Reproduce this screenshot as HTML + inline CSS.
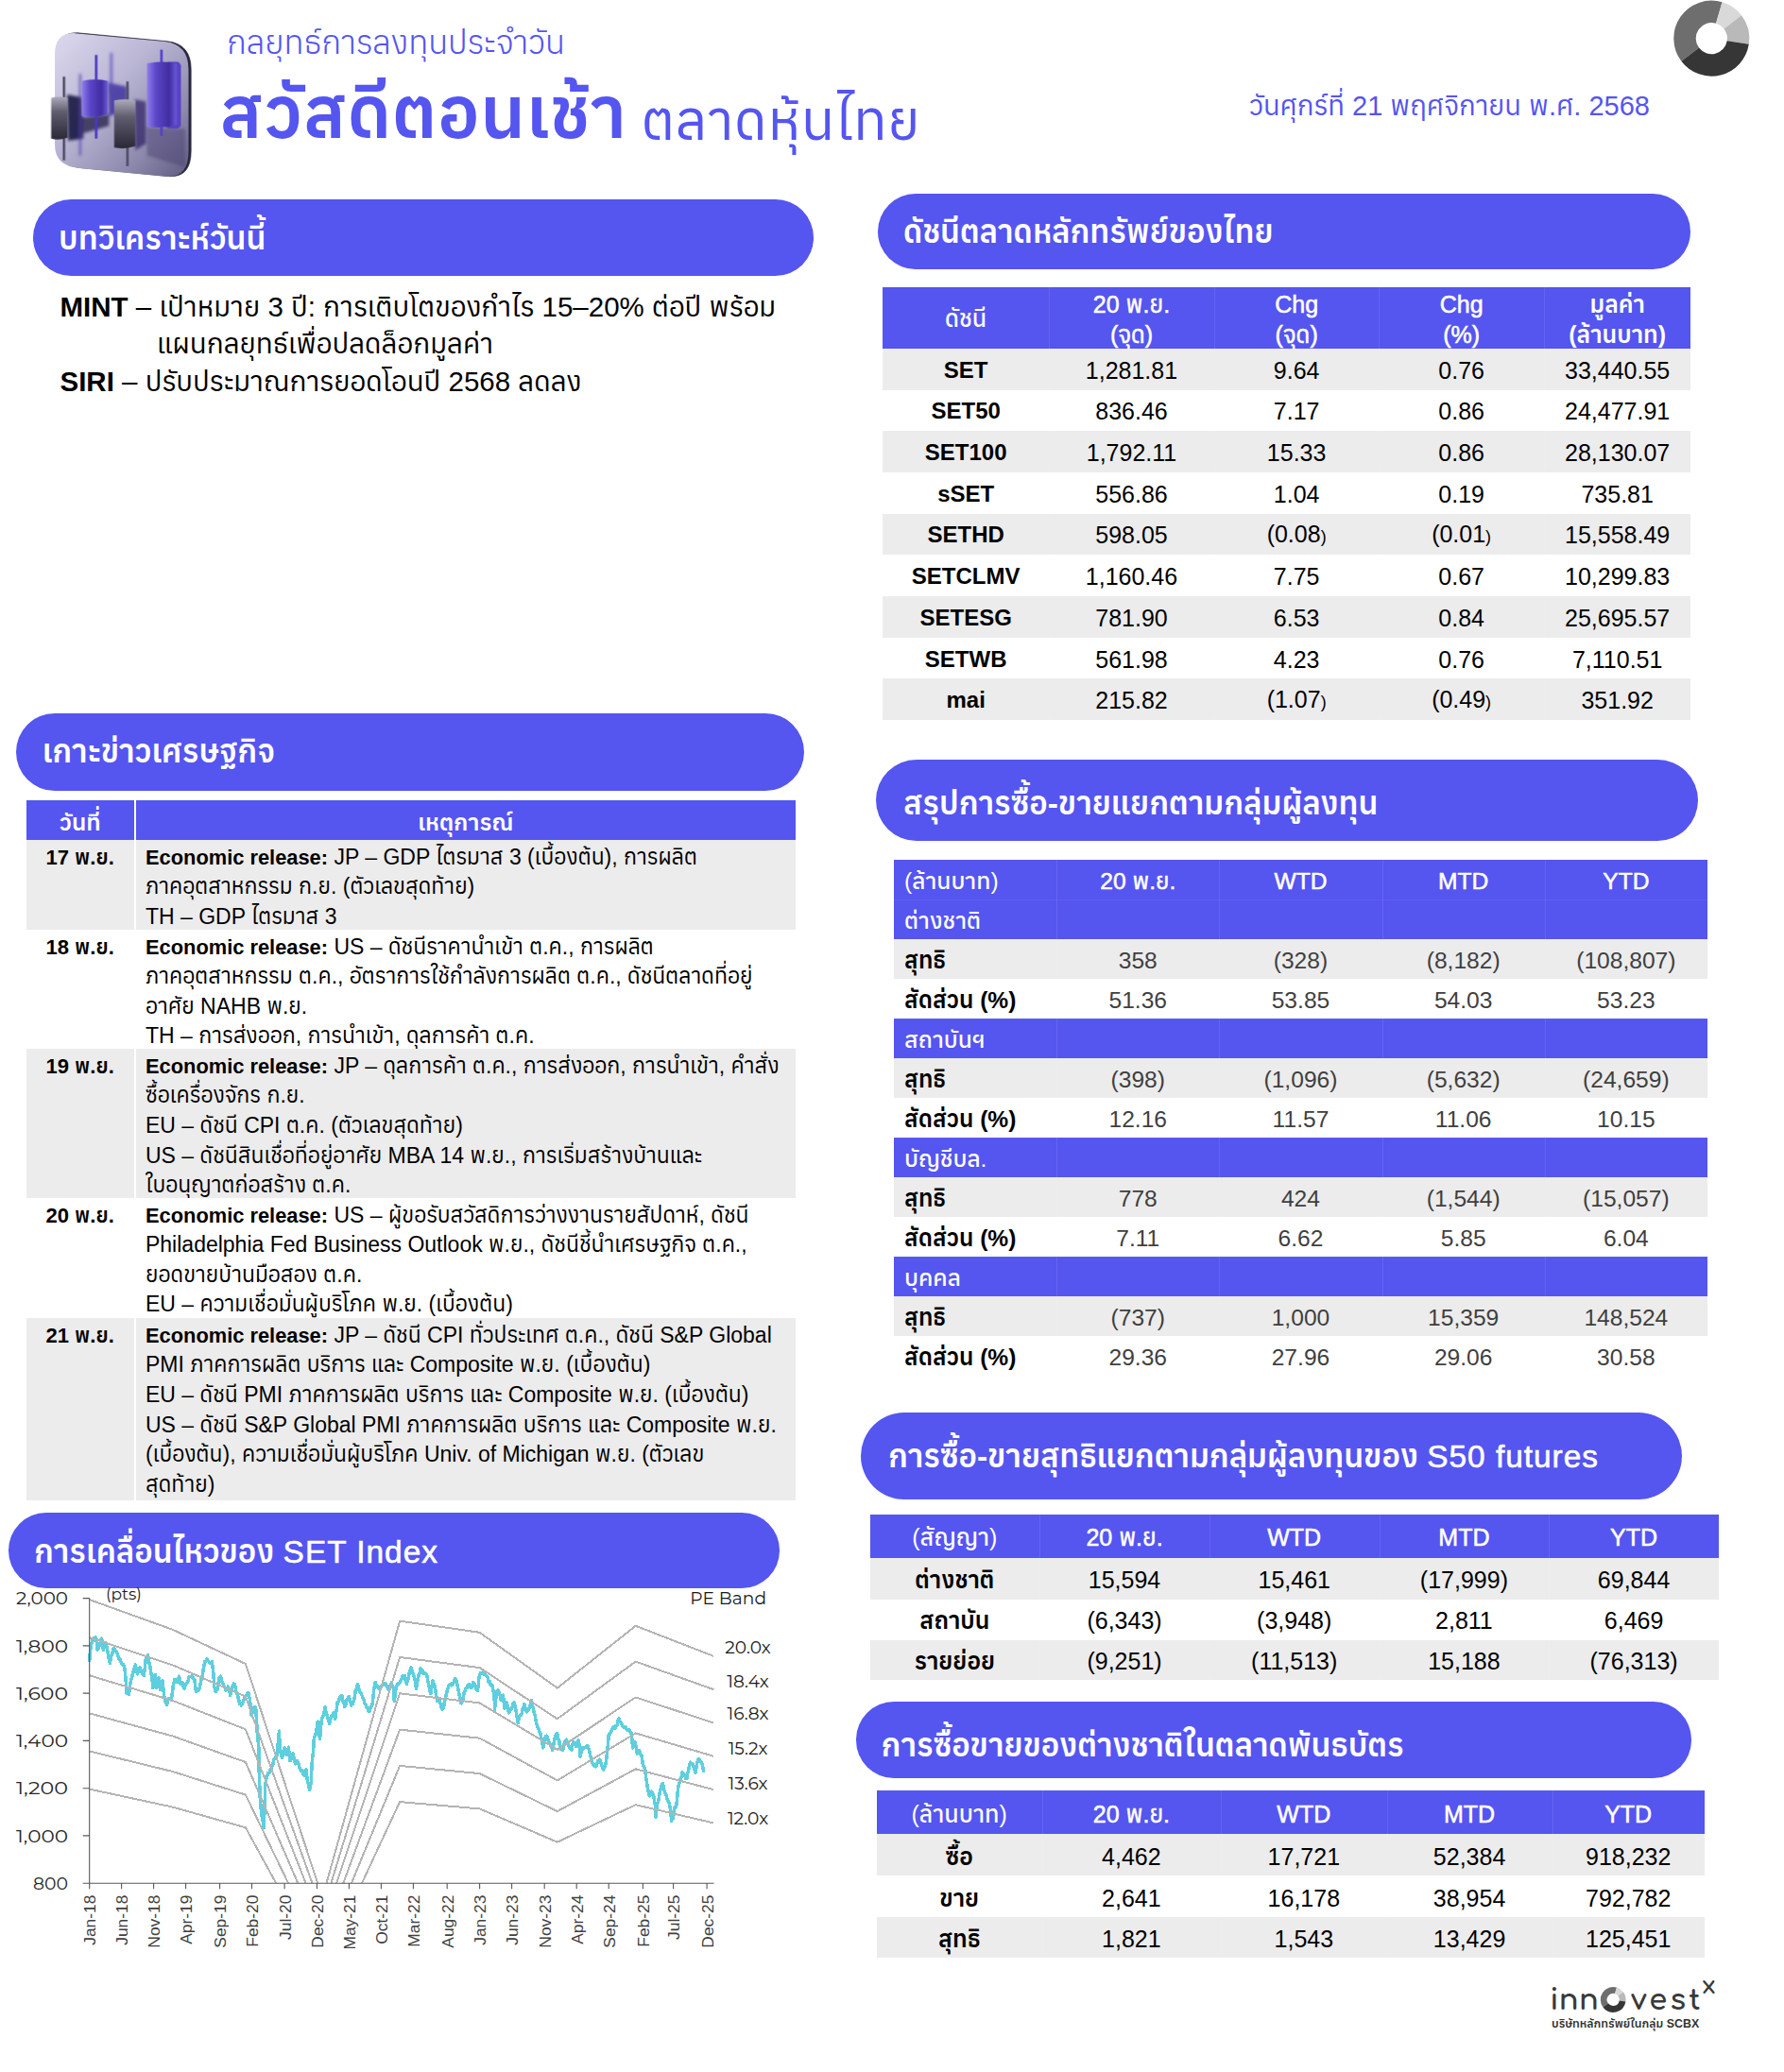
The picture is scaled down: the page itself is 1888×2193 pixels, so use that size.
<!DOCTYPE html>
<html lang="th"><head><meta charset="utf-8"><title>สวัสดีตอนเช้า ตลาดหุ้นไทย</title>
<style>
html,body{margin:0;padding:0;background:#fff}
body{width:1888px;height:2193px;position:relative;overflow:hidden;font-family:"Liberation Sans","Anuphan","IBM Plex Sans Thai","Noto Sans Thai",sans-serif;color:#000}
.abs{position:absolute;white-space:nowrap}
.pill{position:absolute;overflow:hidden;background:#5555f0;color:#fff;font-weight:600;font-size:33.4px;white-space:nowrap;box-sizing:border-box}
.pill span{position:absolute;left:0;line-height:40px}
.grid{position:absolute;display:grid}
.c{display:flex;align-items:center;justify-content:center;white-space:nowrap;box-sizing:border-box;text-align:center;overflow:hidden}
.c span{position:relative;display:block;top:1px}
.h{background:#5555f0;color:#fff;font-weight:600}
.g{background:#ececec}
.w{background:#fff}
.b{font-weight:600}
.l{justify-content:flex-start;text-align:left}
.sp{font-size:.72em}
.hm{font-weight:400;-webkit-text-stroke:.55px currentColor}
.m{font-style:normal;font-weight:400;-webkit-text-stroke:.6px currentColor;letter-spacing:1px}
.v{box-shadow:inset 1px 0 0 rgba(255,255,255,.09)}
.h.t{box-shadow:inset 0 1px 0 rgba(255,255,255,.06)}
.h.t.v{box-shadow:inset 1px 0 0 rgba(255,255,255,.09),inset 0 1px 0 rgba(255,255,255,.06)}
.news{position:absolute;font-size:23px;line-height:31.6px}
.news .r{position:absolute;left:0;width:814.4px}
.news .d{position:absolute;overflow:hidden;white-space:nowrap;left:0;top:0;width:114px;height:100%;text-align:center;font-weight:600;font-size:22px;padding-top:2.5px;box-sizing:border-box}
.news .e{position:absolute;left:116px;top:0;right:0;height:100%;padding-left:10.3px;padding-top:2.5px;white-space:nowrap;box-sizing:border-box;overflow:hidden}
.news b{font-weight:600;font-size:.95em}
</style></head>
<body>
<div class="abs" style="left:240px;top:23px;font-size:34.8px;line-height:44px;font-weight:300;color:#5555f0;width:420px;overflow:hidden">กลยุทธ์การลงทุนประจำวัน</div>
<div class="abs" style="left:232.5px;top:69.5px;font-size:75.7px;line-height:100px;font-weight:600;color:#5555f0;letter-spacing:1.1px;width:440px;overflow:hidden">สวัสดีตอนเช้า</div>
<div class="abs" style="left:679px;top:82.5px;font-size:58px;line-height:90px;font-weight:400;color:#5555f0;letter-spacing:.9px;width:320px;overflow:hidden">ตลาดหุ้นไทย</div>
<div class="abs" style="left:1322px;top:93px;font-size:29.05px;line-height:38px;font-weight:400;color:#5555f0;width:440px;overflow:hidden">วันศุกร์ที่ 21 พฤศจิกายน พ.ศ. 2568</div>
<div class="pill" style="left:35.3px;top:210.9px;width:825.4px;height:80.7px;border-radius:40.4px"><span style="left:26.8px;top:22.0px">บทวิเคราะห์วันนี้</span></div>
<div class="pill" style="left:928.8px;top:205.1px;width:860.6px;height:80.2px;border-radius:40.1px"><span style="left:27.3px;top:21.2px">ดัชนีตลาดหลักทรัพย์ของไทย</span></div>
<div class="pill" style="left:16.8px;top:754.8px;width:833.9px;height:81.9px;border-radius:41.0px"><span style="left:27.9px;top:21.5px">เกาะข่าวเศรษฐกิจ</span></div>
<div class="pill" style="left:927.3px;top:804.0px;width:869.9px;height:86.4px;border-radius:43.2px"><span style="left:28.8px;top:26.5px">สรุปการซื้อ-ขายแยกตามกลุ่มผู้ลงทุน</span></div>
<div class="pill" style="left:910.9px;top:1495.1px;width:869.6px;height:92.0px;border-radius:46.0px"><span style="left:29.0px;top:27.0px">การซื้อ-ขายสุทธิแยกตามกลุ่มผู้ลงทุนของ <i class="m">S50 futures</i></span></div>
<div class="pill" style="left:8.7px;top:1601.3px;width:816.7px;height:79.5px;border-radius:39.8px"><span style="left:27.3px;top:22.1px">การเคลื่อนไหวของ <i class="m">SET Index</i></span></div>
<div class="pill" style="left:906.2px;top:1801.4px;width:884.3px;height:80.2px;border-radius:40.1px"><span style="left:26.4px;top:26.2px">การซื้อขายของต่างชาติในตลาดพันธบัตร</span></div>
<div class="abs" style="left:63.5px;top:305px;font-size:29.5px;line-height:39.4px;width:800px;overflow:hidden"><b style="font-weight:700">MINT</b> – เป้าหมาย 3 ปี: การเติบโตของกำไร 15–20% ต่อปี พร้อม<br><span style="display:inline-block;width:102.5px"></span>แผนกลยุทธ์เพื่อปลดล็อกมูลค่า<br><b style="font-weight:700">SIRI</b> – ปรับประมาณการยอดโอนปี 2568 ลดลง</div>
<div class="news" style="left:27.7px;top:847.0px;width:814.4px;height:740.9000000000001px">
<div class="r" style="top:0;height:42.3px;color:#fff;font-weight:600;font-size:24.5px;line-height:42.3px"><div class="d" style="background:#5555f0;font-weight:600;font-size:24.5px">วันที่</div><div class="e" style="background:#5555f0;text-align:center;padding-left:0">เหตุการณ์</div></div>
<div class="r" style="top:42.3px;height:94.9px"><div class="d" style="background:#ececec">17 พ.ย.</div><div class="e" style="background:#ececec"><b>Economic release:</b> JP – GDP ไตรมาส 3 (เบื้องต้น), การผลิต<br>ภาคอุตสาหกรรม ก.ย. (ตัวเลขสุดท้าย)<br>TH – GDP ไตรมาส 3</div></div>
<div class="r" style="top:137.2px;height:126.1px"><div class="d" style="background:#fff">18 พ.ย.</div><div class="e" style="background:#fff"><b>Economic release:</b> US – ดัชนีราคานำเข้า ต.ค., การผลิต<br>ภาคอุตสาหกรรม ต.ค., อัตราการใช้กำลังการผลิต ต.ค., ดัชนีตลาดที่อยู่<br>อาศัย NAHB พ.ย.<br>TH – การส่งออก, การนำเข้า, ดุลการค้า ต.ค.</div></div>
<div class="r" style="top:263.3px;height:157.9px"><div class="d" style="background:#ececec">19 พ.ย.</div><div class="e" style="background:#ececec"><b>Economic release:</b> JP – ดุลการค้า ต.ค., การส่งออก, การนำเข้า, คำสั่ง<br>ซื้อเครื่องจักร ก.ย.<br>EU – ดัชนี CPI ต.ค. (ตัวเลขสุดท้าย)<br>US – ดัชนีสินเชื่อที่อยู่อาศัย MBA 14 พ.ย., การเริ่มสร้างบ้านและ<br>ใบอนุญาตก่อสร้าง ต.ค.</div></div>
<div class="r" style="top:421.2px;height:127.1px"><div class="d" style="background:#fff">20 พ.ย.</div><div class="e" style="background:#fff"><b>Economic release:</b> US – ผู้ขอรับสวัสดิการว่างงานรายสัปดาห์, ดัชนี<br>Philadelphia Fed Business Outlook พ.ย., ดัชนีชี้นำเศรษฐกิจ ต.ค.,<br>ยอดขายบ้านมือสอง ต.ค.<br>EU – ความเชื่อมั่นผู้บริโภค พ.ย. (เบื้องต้น)</div></div>
<div class="r" style="top:548.3px;height:192.6px"><div class="d" style="background:#ececec">21 พ.ย.</div><div class="e" style="background:#ececec"><b>Economic release:</b> JP – ดัชนี CPI ทั่วประเทศ ต.ค., ดัชนี S&amp;P Global<br>PMI ภาคการผลิต บริการ และ Composite พ.ย. (เบื้องต้น)<br>EU – ดัชนี PMI ภาคการผลิต บริการ และ Composite พ.ย. (เบื้องต้น)<br>US – ดัชนี S&amp;P Global PMI ภาคการผลิต บริการ และ Composite พ.ย.<br>(เบื้องต้น), ความเชื่อมั่นผู้บริโภค Univ. of Michigan พ.ย. (ตัวเลข<br>สุดท้าย)</div></div>
</div>
<div class="grid" style="left:934.3px;top:304.1px;grid-template-columns:175.7px 175px 174.3px 174.7px 155.4px;grid-template-rows:64.8px 43.7px 43.7px 43.7px 43.7px 43.7px 43.7px 43.7px 43.7px 43.7px;font-size:25px;line-height:30.0px">
<div class="c h" style='font-weight:500'><span>ดัชนี</span></div><div class="c h v hm" style='line-height:31.4px;padding-top:2.4px'><span>20 พ.ย.<br>(จุด)</span></div><div class="c h v hm" style='line-height:31.4px;padding-top:2.4px'><span>Chg<br>(จุด)</span></div><div class="c h v hm" style='line-height:31.4px;padding-top:2.4px'><span>Chg<br>(%)</span></div><div class="c h v" style='line-height:31.4px;padding-top:2.4px'><span>มูลค่า<br>(ล้านบาท)</span></div>
<div class="c g b" style='font-size:24px'><span>SET</span></div><div class="c g v"><span>1,281.81</span></div><div class="c g v"><span>9.64</span></div><div class="c g v"><span>0.76</span></div><div class="c g v"><span>33,440.55</span></div>
<div class="c w b" style='font-size:24px'><span>SET50</span></div><div class="c w v"><span>836.46</span></div><div class="c w v"><span>7.17</span></div><div class="c w v"><span>0.86</span></div><div class="c w v"><span>24,477.91</span></div>
<div class="c g b" style='font-size:24px'><span>SET100</span></div><div class="c g v"><span>1,792.11</span></div><div class="c g v"><span>15.33</span></div><div class="c g v"><span>0.86</span></div><div class="c g v"><span>28,130.07</span></div>
<div class="c w b" style='font-size:24px'><span>sSET</span></div><div class="c w v"><span>556.86</span></div><div class="c w v"><span>1.04</span></div><div class="c w v"><span>0.19</span></div><div class="c w v"><span>735.81</span></div>
<div class="c g b" style='font-size:24px'><span>SETHD</span></div><div class="c g v"><span>598.05</span></div><div class="c g v"><span>(0.08<i class="sp" style="font-style:normal">)</i></span></div><div class="c g v"><span>(0.01<i class="sp" style="font-style:normal">)</i></span></div><div class="c g v"><span>15,558.49</span></div>
<div class="c w b" style='font-size:24px'><span>SETCLMV</span></div><div class="c w v"><span>1,160.46</span></div><div class="c w v"><span>7.75</span></div><div class="c w v"><span>0.67</span></div><div class="c w v"><span>10,299.83</span></div>
<div class="c g b" style='font-size:24px'><span>SETESG</span></div><div class="c g v"><span>781.90</span></div><div class="c g v"><span>6.53</span></div><div class="c g v"><span>0.84</span></div><div class="c g v"><span>25,695.57</span></div>
<div class="c w b" style='font-size:24px'><span>SETWB</span></div><div class="c w v"><span>561.98</span></div><div class="c w v"><span>4.23</span></div><div class="c w v"><span>0.76</span></div><div class="c w v"><span>7,110.51</span></div>
<div class="c g b" style='font-size:24px'><span>mai</span></div><div class="c g v"><span>215.82</span></div><div class="c g v"><span>(1.07<i class="sp" style="font-style:normal">)</i></span></div><div class="c g v"><span>(0.49<i class="sp" style="font-style:normal">)</i></span></div><div class="c g v"><span>351.92</span></div>
</div>
<div class="grid" style="left:946.0px;top:910.2px;grid-template-columns:172.2px 172.2px 172.2px 172.2px 172.2px;grid-template-rows:42.0px 42.0px 42.0px 42.0px 42.0px 42.0px 42.0px 42.0px 42.0px 42.0px 42.0px 42.0px 42.0px;font-size:24.6px;line-height:29.5px">
<div class="c h l" style='font-weight:500;padding-left:11px'><span style="top:2px">(ล้านบาท)</span></div><div class="c h v hm"><span style="top:2px">20 พ.ย.</span></div><div class="c h v hm"><span style="top:2px">WTD</span></div><div class="c h v hm"><span style="top:2px">MTD</span></div><div class="c h v hm"><span style="top:2px">YTD</span></div>
<div class="c h l t" style='font-weight:500;padding-left:11px'><span style="top:2px">ต่างชาติ</span></div><div class="c h t v"><span style="top:2px"></span></div><div class="c h t v"><span style="top:2px"></span></div><div class="c h t v"><span style="top:2px"></span></div><div class="c h t v"><span style="top:2px"></span></div>
<div class="c g b l" style='padding-left:11px'><span style="top:2px">สุทธิ</span></div><div class="c g v" style='color:#3f3f3f'><span style="top:2px">358</span></div><div class="c g v" style='color:#3f3f3f'><span style="top:2px">(328)</span></div><div class="c g v" style='color:#3f3f3f'><span style="top:2px">(8,182)</span></div><div class="c g v" style='color:#3f3f3f'><span style="top:2px">(108,807)</span></div>
<div class="c w b l" style='padding-left:11px'><span style="top:2px">สัดส่วน (%)</span></div><div class="c w v" style='color:#3f3f3f'><span style="top:2px">51.36</span></div><div class="c w v" style='color:#3f3f3f'><span style="top:2px">53.85</span></div><div class="c w v" style='color:#3f3f3f'><span style="top:2px">54.03</span></div><div class="c w v" style='color:#3f3f3f'><span style="top:2px">53.23</span></div>
<div class="c h l t" style='font-weight:500;padding-left:11px'><span style="top:2px">สถาบันฯ</span></div><div class="c h t v"><span style="top:2px"></span></div><div class="c h t v"><span style="top:2px"></span></div><div class="c h t v"><span style="top:2px"></span></div><div class="c h t v"><span style="top:2px"></span></div>
<div class="c g b l" style='padding-left:11px'><span style="top:2px">สุทธิ</span></div><div class="c g v" style='color:#3f3f3f'><span style="top:2px">(398)</span></div><div class="c g v" style='color:#3f3f3f'><span style="top:2px">(1,096)</span></div><div class="c g v" style='color:#3f3f3f'><span style="top:2px">(5,632)</span></div><div class="c g v" style='color:#3f3f3f'><span style="top:2px">(24,659)</span></div>
<div class="c w b l" style='padding-left:11px'><span style="top:2px">สัดส่วน (%)</span></div><div class="c w v" style='color:#3f3f3f'><span style="top:2px">12.16</span></div><div class="c w v" style='color:#3f3f3f'><span style="top:2px">11.57</span></div><div class="c w v" style='color:#3f3f3f'><span style="top:2px">11.06</span></div><div class="c w v" style='color:#3f3f3f'><span style="top:2px">10.15</span></div>
<div class="c h l t" style='font-weight:500;padding-left:11px'><span style="top:2px">บัญชีบล.</span></div><div class="c h t v"><span style="top:2px"></span></div><div class="c h t v"><span style="top:2px"></span></div><div class="c h t v"><span style="top:2px"></span></div><div class="c h t v"><span style="top:2px"></span></div>
<div class="c g b l" style='padding-left:11px'><span style="top:2px">สุทธิ</span></div><div class="c g v" style='color:#3f3f3f'><span style="top:2px">778</span></div><div class="c g v" style='color:#3f3f3f'><span style="top:2px">424</span></div><div class="c g v" style='color:#3f3f3f'><span style="top:2px">(1,544)</span></div><div class="c g v" style='color:#3f3f3f'><span style="top:2px">(15,057)</span></div>
<div class="c w b l" style='padding-left:11px'><span style="top:2px">สัดส่วน (%)</span></div><div class="c w v" style='color:#3f3f3f'><span style="top:2px">7.11</span></div><div class="c w v" style='color:#3f3f3f'><span style="top:2px">6.62</span></div><div class="c w v" style='color:#3f3f3f'><span style="top:2px">5.85</span></div><div class="c w v" style='color:#3f3f3f'><span style="top:2px">6.04</span></div>
<div class="c h l t" style='font-weight:500;padding-left:11px'><span style="top:2px">บุคคล</span></div><div class="c h t v"><span style="top:2px"></span></div><div class="c h t v"><span style="top:2px"></span></div><div class="c h t v"><span style="top:2px"></span></div><div class="c h t v"><span style="top:2px"></span></div>
<div class="c g b l" style='padding-left:11px'><span style="top:2px">สุทธิ</span></div><div class="c g v" style='color:#3f3f3f'><span style="top:2px">(737)</span></div><div class="c g v" style='color:#3f3f3f'><span style="top:2px">1,000</span></div><div class="c g v" style='color:#3f3f3f'><span style="top:2px">15,359</span></div><div class="c g v" style='color:#3f3f3f'><span style="top:2px">148,524</span></div>
<div class="c w b l" style='padding-left:11px'><span style="top:2px">สัดส่วน (%)</span></div><div class="c w v" style='color:#3f3f3f'><span style="top:2px">29.36</span></div><div class="c w v" style='color:#3f3f3f'><span style="top:2px">27.96</span></div><div class="c w v" style='color:#3f3f3f'><span style="top:2px">29.06</span></div><div class="c w v" style='color:#3f3f3f'><span style="top:2px">30.58</span></div>
</div>
<div class="grid" style="left:920.5px;top:1602.9px;grid-template-columns:179.7px 179.7px 179.7px 179.7px 179.7px;grid-template-rows:46.5px 43.3px 43.2px 42.6px;font-size:25px;line-height:30.0px">
<div class="c h" style='font-weight:500'><span>(สัญญา)</span></div><div class="c h v hm"><span>20 พ.ย.</span></div><div class="c h v hm"><span>WTD</span></div><div class="c h v hm"><span>MTD</span></div><div class="c h v hm"><span>YTD</span></div>
<div class="c g b"><span>ต่างชาติ</span></div><div class="c g v"><span>15,594</span></div><div class="c g v"><span>15,461</span></div><div class="c g v"><span>(17,999)</span></div><div class="c g v"><span>69,844</span></div>
<div class="c w b"><span>สถาบัน</span></div><div class="c w v"><span>(6,343)</span></div><div class="c w v"><span>(3,948)</span></div><div class="c w v"><span>2,811</span></div><div class="c w v"><span>6,469</span></div>
<div class="c g b"><span>รายย่อย</span></div><div class="c g v"><span>(9,251)</span></div><div class="c g v"><span>(11,513)</span></div><div class="c g v"><span>15,188</span></div><div class="c g v"><span>(76,313)</span></div>
</div>
<div class="grid" style="left:927.7px;top:1895.2px;grid-template-columns:175px 189.4px 175.5px 175px 161.2px;grid-template-rows:45.4px 44.3px 43.8px 43.2px;font-size:25px;line-height:30.0px">
<div class="c h" style='font-weight:500'><span style="top:2px">(ล้านบาท)</span></div><div class="c h v hm"><span style="top:2px">20 พ.ย.</span></div><div class="c h v hm"><span style="top:2px">WTD</span></div><div class="c h v hm"><span style="top:2px">MTD</span></div><div class="c h v hm"><span style="top:2px">YTD</span></div>
<div class="c g b"><span style="top:2px">ซื้อ</span></div><div class="c g v"><span style="top:2px">4,462</span></div><div class="c g v"><span style="top:2px">17,721</span></div><div class="c g v"><span style="top:2px">52,384</span></div><div class="c g v"><span style="top:2px">918,232</span></div>
<div class="c w b"><span style="top:2px">ขาย</span></div><div class="c w v"><span style="top:2px">2,641</span></div><div class="c w v"><span style="top:2px">16,178</span></div><div class="c w v"><span style="top:2px">38,954</span></div><div class="c w v"><span style="top:2px">792,782</span></div>
<div class="c g b"><span style="top:2px">สุทธิ</span></div><div class="c g v"><span style="top:2px">1,821</span></div><div class="c g v"><span style="top:2px">1,543</span></div><div class="c g v"><span style="top:2px">13,429</span></div><div class="c g v"><span style="top:2px">125,451</span></div>
</div>
<svg class="abs" style="left:0;top:1676px" width="900" height="420" viewBox="0 1676 900 420">
<defs><clipPath id="pc"><rect x="94.67" y="1686" width="661.6" height="307.2"/></clipPath></defs>
<polyline fill="none" stroke="#5ecfde" stroke-width="3.5" stroke-linejoin="round" stroke-linecap="round" shape-rendering="crispEdges" points="94.7,1757.2 95.4,1748.9 96.2,1741.8 97.0,1738.5 97.8,1738.0 98.5,1734.0 99.3,1733.3 100.1,1733.4 100.8,1732.8 101.6,1733.3 102.4,1738.4 103.2,1746.4 103.9,1744.9 104.7,1741.8 105.5,1741.8 106.1,1739.0 106.8,1735.2 107.5,1734.0 108.4,1738.9 109.3,1746.4 110.1,1743.6 110.9,1742.3 111.7,1738.7 112.4,1740.6 113.2,1744.0 114.0,1747.9 114.7,1752.5 115.5,1757.6 116.3,1760.3 117.1,1756.9 117.8,1752.8 118.6,1749.5 119.4,1749.5 120.1,1744.9 120.9,1744.9 121.7,1747.5 122.5,1747.3 123.2,1748.3 124.0,1749.8 124.8,1752.6 125.6,1753.5 126.3,1756.7 127.1,1756.2 127.9,1758.8 128.6,1760.1 129.4,1761.4 130.2,1761.6 131.0,1763.2 131.7,1764.2 132.5,1770.9 133.3,1780.4 134.0,1792.7 134.8,1791.6 135.6,1792.3 136.4,1793.5 137.1,1788.3 137.9,1781.9 138.7,1778.6 139.5,1775.1 140.2,1772.9 141.0,1769.6 141.8,1766.8 142.5,1763.8 143.3,1761.8 144.1,1766.1 144.9,1769.2 145.6,1771.9 146.4,1768.7 147.2,1767.5 147.9,1764.9 148.7,1766.6 149.5,1769.2 150.3,1769.6 150.9,1771.6 151.6,1771.5 152.3,1773.4 153.2,1766.9 154.1,1757.2 154.9,1754.2 155.7,1753.3 156.4,1751.8 157.2,1756.9 158.0,1760.3 158.8,1763.3 159.5,1768.5 160.3,1772.6 161.1,1778.1 161.8,1786.5 162.6,1782.5 163.4,1778.1 164.2,1772.6 164.9,1779.8 165.7,1786.5 166.5,1784.1 167.2,1778.7 168.0,1775.7 168.8,1782.5 169.6,1788.1 170.3,1785.3 171.1,1782.2 171.9,1778.8 172.6,1784.9 173.4,1792.3 174.2,1797.4 175.0,1801.1 175.7,1801.9 176.5,1804.3 177.3,1802.5 178.1,1798.3 178.8,1797.4 179.6,1798.5 180.4,1798.9 181.1,1798.9 181.8,1795.8 182.5,1790.7 183.2,1785.0 184.1,1780.5 185.0,1777.3 185.8,1777.9 186.5,1779.9 187.3,1780.4 188.1,1776.8 188.9,1776.1 189.6,1774.2 190.4,1777.4 191.2,1782.7 192.0,1781.2 192.7,1780.8 193.5,1781.9 194.3,1785.5 195.0,1787.3 195.8,1784.4 196.6,1783.0 197.4,1781.8 198.1,1780.4 198.9,1779.8 199.7,1775.4 200.4,1775.0 201.2,1774.4 202.0,1774.4 202.8,1775.0 203.5,1773.4 204.3,1775.7 205.1,1777.2 205.8,1777.3 206.6,1783.1 207.4,1790.4 208.2,1789.4 208.9,1788.4 209.7,1789.3 210.5,1788.8 211.3,1786.5 212.0,1782.0 212.8,1778.6 213.6,1775.3 214.3,1772.6 215.1,1767.2 215.9,1763.3 216.7,1758.8 217.4,1758.7 218.2,1757.2 219.0,1756.0 219.7,1757.2 220.5,1758.0 221.3,1758.8 222.1,1760.3 222.8,1760.0 223.6,1760.7 224.4,1758.8 225.2,1765.5 225.9,1771.1 226.7,1785.0 227.5,1787.8 228.2,1790.4 229.0,1789.5 229.8,1788.4 230.6,1786.5 231.3,1779.7 232.1,1775.7 232.9,1776.2 233.6,1774.2 234.4,1777.7 235.2,1780.5 236.0,1781.9 236.7,1784.6 237.5,1785.0 238.3,1786.8 239.0,1788.9 239.8,1786.3 240.6,1786.7 241.4,1785.0 242.1,1786.7 242.9,1789.8 243.7,1794.3 244.5,1790.2 245.2,1787.0 246.0,1785.0 246.8,1783.7 247.5,1782.0 248.3,1782.7 249.1,1785.3 249.9,1791.2 250.6,1792.1 251.4,1794.0 252.2,1797.4 252.9,1800.0 253.7,1803.5 254.5,1802.3 255.3,1805.2 256.0,1804.3 256.8,1802.9 257.6,1799.6 258.4,1798.9 259.1,1796.6 259.9,1795.3 260.7,1794.3 261.4,1793.1 262.2,1791.5 263.0,1792.0 263.8,1796.5 264.5,1798.9 265.3,1809.0 266.1,1815.9 266.8,1813.2 267.6,1810.7 268.4,1808.2 269.2,1806.8 269.9,1806.9 270.7,1808.2 271.5,1820.0 272.2,1832.9 273.0,1840.6 273.8,1849.9 274.3,1877.7 275.3,1903.9 276.1,1913.4 276.9,1920.9 277.7,1924.4 278.4,1928.6 279.2,1934.8 280.0,1914.7 280.7,1888.5 281.5,1885.3 282.3,1879.2 283.1,1878.5 283.8,1876.5 284.6,1877.0 285.4,1876.1 286.1,1872.5 286.9,1872.1 287.7,1869.9 288.5,1868.9 289.2,1865.9 290.0,1862.2 290.8,1861.7 291.6,1859.1 292.3,1858.3 293.1,1857.6 293.9,1848.8 294.6,1842.1 295.4,1832.1 296.2,1849.9 297.0,1854.3 297.7,1857.2 298.5,1860.7 299.3,1858.0 300.0,1852.9 300.8,1849.9 301.6,1851.5 302.4,1856.0 303.1,1857.6 303.9,1856.3 304.7,1853.0 305.4,1849.1 306.2,1857.4 307.0,1863.8 307.8,1862.8 308.5,1860.7 309.3,1857.1 310.1,1856.0 310.9,1859.7 311.6,1862.8 312.4,1866.8 313.2,1864.3 313.9,1863.3 314.7,1863.8 315.5,1865.4 316.3,1867.6 317.0,1871.3 317.8,1873.0 318.5,1874.7 319.3,1873.4 320.0,1873.8 320.8,1877.0 321.5,1879.0 322.3,1879.2 323.1,1877.6 323.9,1873.0 324.6,1878.8 325.4,1885.4 326.2,1887.6 326.9,1890.7 327.7,1894.6 328.5,1889.8 329.3,1886.9 330.0,1868.4 330.8,1859.7 331.6,1852.9 332.4,1839.0 333.1,1837.4 333.9,1836.2 334.7,1832.9 335.4,1828.6 336.2,1822.1 337.0,1828.2 337.8,1834.9 338.5,1840.6 339.3,1832.3 340.1,1822.1 340.8,1818.2 341.6,1817.4 342.4,1814.3 343.2,1811.8 343.9,1806.6 344.7,1810.6 345.5,1813.6 346.3,1815.9 347.0,1818.6 347.8,1820.5 348.6,1824.4 349.3,1822.5 350.1,1818.2 350.9,1815.9 351.7,1815.8 352.4,1815.3 353.2,1812.8 354.0,1815.9 354.7,1819.7 355.5,1813.5 356.3,1809.3 357.1,1802.0 357.8,1801.7 358.6,1798.9 359.4,1798.9 360.1,1796.2 360.9,1794.7 361.7,1794.3 362.5,1798.7 363.2,1801.4 364.0,1802.4 364.8,1806.6 365.6,1805.1 366.3,1803.0 367.1,1798.9 367.9,1798.4 368.6,1796.4 369.4,1795.8 370.2,1799.1 371.0,1800.8 371.7,1805.1 372.5,1802.0 373.3,1803.5 374.0,1800.9 374.8,1798.9 375.6,1793.6 376.4,1788.1 377.1,1787.7 377.9,1784.3 378.7,1782.7 379.5,1786.7 380.2,1789.4 381.0,1791.2 381.8,1791.8 382.5,1793.5 383.3,1795.1 384.1,1797.4 384.9,1798.6 385.6,1801.8 386.4,1803.5 387.2,1804.3 387.9,1806.4 388.7,1808.2 389.5,1808.0 390.3,1811.5 391.0,1811.3 391.8,1808.9 392.6,1807.3 393.3,1805.7 394.1,1803.5 394.9,1797.1 395.7,1788.1 396.4,1784.0 397.2,1780.4 398.0,1783.3 398.8,1783.5 399.5,1785.0 400.3,1786.1 401.1,1787.1 401.8,1788.1 402.6,1785.4 403.4,1785.6 404.2,1783.6 404.9,1783.5 405.7,1781.5 406.5,1783.6 407.2,1781.3 408.0,1781.9 408.8,1783.4 409.6,1785.7 410.3,1786.7 411.1,1788.1 411.9,1785.8 412.6,1784.7 413.4,1783.1 414.2,1781.1 415.0,1784.4 415.7,1784.5 416.5,1788.1 417.3,1800.4 418.1,1794.5 418.8,1788.1 419.6,1785.2 420.4,1783.3 421.1,1781.9 421.9,1782.3 422.7,1780.9 423.5,1780.4 424.2,1778.5 425.0,1777.1 425.8,1774.2 426.5,1775.3 427.3,1773.5 428.1,1773.4 428.9,1776.9 429.6,1779.6 430.4,1782.7 431.2,1779.4 432.0,1776.6 432.7,1772.6 433.5,1769.9 434.3,1767.6 435.0,1764.9 435.8,1766.9 436.6,1770.5 437.4,1771.1 438.1,1774.3 438.9,1777.5 439.7,1778.8 440.4,1787.3 441.2,1784.4 442.0,1777.8 442.8,1774.2 443.5,1771.6 444.3,1770.0 445.1,1765.7 445.8,1768.1 446.6,1767.2 447.4,1768.5 448.2,1771.1 448.9,1771.3 449.7,1770.5 450.5,1771.4 451.3,1772.6 452.0,1774.4 452.8,1779.4 453.6,1781.9 454.3,1786.4 455.1,1790.4 455.9,1792.7 456.7,1787.0 457.4,1784.2 458.2,1778.8 459.0,1781.9 459.7,1782.8 460.5,1786.5 461.3,1792.4 462.1,1797.3 462.8,1800.4 463.6,1799.0 464.4,1800.9 465.2,1798.9 465.9,1802.4 466.7,1806.6 467.5,1807.1 468.2,1809.2 469.0,1808.2 469.8,1805.6 470.6,1799.9 471.3,1797.4 472.1,1794.0 472.9,1791.2 473.6,1788.1 474.4,1785.8 475.2,1783.5 476.0,1782.7 476.7,1782.3 477.5,1783.8 478.3,1781.7 479.0,1783.5 479.8,1781.9 480.6,1779.8 481.4,1776.7 482.1,1776.5 482.9,1778.8 483.7,1782.6 484.5,1785.0 485.2,1789.7 486.0,1792.9 486.8,1798.9 487.5,1802.4 488.3,1802.8 489.1,1800.9 489.9,1798.6 490.6,1794.3 491.4,1791.1 492.2,1789.7 492.9,1787.0 493.7,1786.5 494.5,1786.2 495.3,1783.2 496.0,1782.7 496.8,1782.8 497.6,1785.0 498.4,1786.5 499.1,1785.8 499.9,1783.5 500.7,1780.4 501.4,1781.1 502.2,1782.3 503.0,1785.0 503.8,1787.9 504.5,1788.3 505.3,1789.6 506.1,1784.6 506.8,1777.0 507.6,1772.6 508.4,1770.5 509.2,1771.7 509.9,1770.3 510.7,1770.3 511.5,1769.4 512.2,1772.3 513.0,1771.1 513.8,1772.6 514.6,1774.1 515.3,1774.2 516.1,1774.9 516.9,1779.5 517.7,1780.4 518.4,1779.8 519.2,1783.1 520.0,1782.5 520.7,1783.5 521.5,1786.5 522.3,1790.8 523.1,1794.3 523.5,1809.7 524.4,1801.8 525.4,1791.2 526.1,1789.9 526.9,1789.0 527.7,1789.6 528.5,1792.8 529.2,1795.0 530.0,1798.9 530.8,1796.1 531.6,1794.7 532.3,1794.3 533.1,1799.8 533.9,1808.2 534.6,1805.2 535.4,1803.4 536.2,1802.0 537.0,1805.0 537.7,1810.0 538.5,1812.8 539.3,1811.0 540.0,1810.5 540.8,1808.3 541.6,1808.2 542.4,1805.6 543.1,1802.5 543.9,1802.0 544.7,1804.3 545.4,1806.6 546.2,1811.3 546.9,1816.1 547.6,1819.7 548.2,1823.6 549.2,1818.8 550.1,1815.9 550.9,1814.8 551.6,1815.2 552.4,1812.8 553.2,1808.4 553.9,1807.6 554.7,1803.5 555.5,1805.9 556.3,1808.7 557.0,1811.3 557.8,1811.8 558.6,1809.9 559.3,1809.7 560.0,1808.2 560.8,1805.4 561.5,1803.1 562.3,1799.7 563.1,1804.7 563.9,1806.6 564.6,1809.2 565.4,1813.9 566.2,1815.9 566.9,1820.2 567.7,1823.5 568.5,1826.7 569.3,1828.4 570.0,1830.3 570.8,1832.9 571.6,1834.0 572.4,1836.8 573.1,1840.6 573.9,1843.9 574.7,1849.9 575.4,1847.0 576.2,1841.9 577.0,1839.0 577.8,1837.7 578.5,1837.2 579.3,1838.3 580.1,1841.7 580.8,1844.1 581.6,1845.2 582.4,1847.5 583.2,1848.0 583.9,1849.6 584.7,1852.2 585.5,1847.7 586.3,1844.3 587.0,1840.6 587.8,1837.4 588.6,1836.3 589.3,1834.4 590.1,1836.2 590.9,1841.0 591.7,1842.1 592.4,1848.3 593.2,1851.4 594.0,1851.8 594.7,1851.1 595.5,1852.2 596.3,1850.6 597.1,1845.4 597.8,1842.9 598.6,1842.5 599.4,1841.3 600.1,1842.9 600.9,1844.8 601.7,1847.5 602.5,1849.9 603.2,1850.6 604.0,1850.4 604.8,1852.2 605.6,1848.3 606.3,1844.5 607.1,1843.8 607.9,1845.6 608.6,1846.0 609.4,1848.3 610.2,1846.4 611.0,1843.8 611.7,1842.2 612.5,1842.1 613.3,1850.0 614.0,1859.1 614.8,1855.2 615.6,1853.2 616.4,1849.9 617.1,1849.8 617.9,1850.3 618.7,1849.8 619.5,1849.1 620.2,1849.3 621.0,1849.3 621.8,1847.5 622.5,1849.5 623.3,1851.6 624.1,1854.5 624.9,1859.1 625.6,1859.5 626.4,1863.8 627.2,1866.4 627.9,1867.6 628.7,1868.8 629.5,1867.7 630.3,1869.9 631.0,1868.9 631.8,1867.1 632.6,1863.8 633.3,1863.6 634.1,1863.5 634.9,1862.2 635.7,1865.8 636.4,1866.2 637.2,1869.9 638.0,1871.6 638.8,1873.0 639.5,1871.0 640.3,1870.0 641.1,1866.8 641.8,1861.6 642.6,1854.5 643.4,1846.3 644.2,1836.0 644.9,1835.2 645.7,1835.2 646.5,1832.9 647.2,1831.9 648.0,1830.4 648.8,1828.2 649.6,1827.6 650.3,1827.3 651.1,1829.0 651.9,1826.6 652.6,1826.0 653.4,1825.2 654.2,1820.8 655.0,1819.0 655.7,1821.6 656.5,1822.3 657.3,1823.6 658.1,1825.2 658.8,1826.3 659.6,1827.7 660.4,1828.2 661.1,1828.7 661.9,1827.7 662.7,1829.8 663.5,1830.9 664.2,1831.0 665.0,1830.4 665.8,1830.6 666.5,1832.0 667.3,1833.6 668.1,1834.4 668.9,1840.7 669.6,1849.9 670.4,1848.6 671.2,1844.9 672.0,1843.7 672.7,1846.4 673.5,1851.2 674.3,1856.0 675.0,1855.7 675.8,1853.0 676.6,1852.9 677.4,1855.3 678.1,1857.6 678.9,1857.6 679.7,1863.0 680.4,1868.4 681.2,1869.6 682.0,1871.4 682.8,1873.0 683.5,1879.8 684.3,1885.4 685.1,1890.9 685.8,1894.6 686.6,1898.1 687.4,1900.8 688.2,1899.7 688.9,1896.4 689.7,1896.2 690.5,1897.1 691.3,1899.5 692.0,1902.4 692.8,1907.8 693.6,1911.6 694.0,1923.2 695.1,1911.6 695.9,1907.9 696.7,1905.7 697.4,1902.4 698.2,1897.2 699.0,1893.7 699.7,1891.6 700.5,1888.9 701.3,1887.7 702.1,1891.1 702.8,1894.0 703.6,1896.2 704.4,1899.3 705.2,1900.7 705.9,1903.9 706.7,1905.5 707.5,1906.9 708.2,1908.5 709.0,1912.3 709.8,1916.3 710.6,1927.1 711.3,1925.1 712.1,1925.5 712.9,1921.4 713.6,1914.7 714.4,1912.2 715.2,1913.2 716.0,1910.1 716.7,1903.0 717.5,1893.1 718.3,1888.5 719.0,1886.8 719.8,1883.8 720.6,1882.3 721.4,1880.2 722.1,1876.1 722.9,1877.0 723.7,1877.4 724.5,1879.2 725.2,1879.3 726.0,1882.7 726.8,1882.3 727.5,1877.8 728.3,1875.3 729.1,1871.5 729.9,1867.2 730.6,1865.3 731.4,1865.9 732.2,1867.8 732.9,1866.8 733.7,1868.0 734.5,1872.5 735.3,1873.8 736.0,1876.1 736.8,1871.9 737.6,1865.3 738.5,1864.0 739.4,1861.4 740.1,1861.5 740.8,1864.6 741.5,1864.3 742.2,1865.3 743.0,1866.9 743.8,1869.9 744.5,1874.6"/>
<g clip-path="url(#pc)" fill="none" stroke="#b4b4b4" stroke-width="2" stroke-linejoin="round" shape-rendering="crispEdges">
<polyline points="94.7,1693.1 182.7,1724.8 259.9,1761.0 336.2,1993.2 340.9,2007.3 345.5,1993.2 423.1,1715.7 507.6,1727.8 589.8,1786.6 672.7,1720.8 755.3,1752.9"/>
<polyline points="94.7,1733.2 182.7,1762.3 259.9,1795.6 336.2,2009.3 340.9,2022.2 345.5,2009.3 423.1,1754.0 507.6,1765.1 589.8,1819.2 672.7,1758.6 755.3,1788.2"/>
<polyline points="94.7,1773.3 182.7,1799.9 259.9,1830.3 336.2,2025.4 340.9,2037.2 345.5,2025.4 423.1,1792.3 507.6,1802.4 589.8,1851.8 672.7,1796.5 755.3,1823.5"/>
<polyline points="94.7,1813.4 182.7,1837.5 259.9,1865.0 336.2,2041.5 340.9,2052.2 345.5,2041.5 423.1,1830.6 507.6,1839.7 589.8,1884.4 672.7,1834.4 755.3,1858.8"/>
<polyline points="94.7,1853.5 182.7,1875.0 259.9,1899.6 336.2,2057.5 340.9,2067.1 345.5,2057.5 423.1,1868.9 507.6,1877.1 589.8,1917.1 672.7,1872.3 755.3,1894.2"/>
<polyline points="94.7,1893.6 182.7,1912.6 259.9,1934.3 336.2,2073.6 340.9,2082.1 345.5,2073.6 423.1,1907.1 507.6,1914.4 589.8,1949.7 672.7,1910.2 755.3,1929.5"/>
</g>
<g stroke="#595959" stroke-width="1.1" fill="none"><path d="M94.67,1691.6V1993.2M87.67,1993.2H755.5M87.7,1942.9H94.67M87.7,1892.7H94.67M87.7,1842.4H94.67M87.7,1792.1H94.67M87.7,1741.9H94.67M87.7,1691.6H94.67M94.7,1993.2v6M128.6,1993.2v6M162.6,1993.2v6M196.6,1993.2v6M232.6,1993.2v6M266.5,1993.2v6M301.1,1993.2v6M335.4,1993.2v6M369.4,1993.2v6M403.4,1993.2v6M437.4,1993.2v6M473.2,1993.2v6M507.6,1993.2v6M541.6,1993.2v6M576.2,1993.2v6M610.2,1993.2v6M644.2,1993.2v6M680.4,1993.2v6M712.6,1993.2v6M748.1,1993.2v6"/></g>
<g font-family='"Montserrat","Liberation Sans",sans-serif' font-size="18.6" fill="#262626" text-anchor="end"><text x="72" y="1999.8" textLength="37" lengthAdjust="spacingAndGlyphs">800</text><text x="72" y="1949.5" textLength="55" lengthAdjust="spacingAndGlyphs">1,000</text><text x="72" y="1899.3" textLength="55" lengthAdjust="spacingAndGlyphs">1,200</text><text x="72" y="1849.0" textLength="55" lengthAdjust="spacingAndGlyphs">1,400</text><text x="72" y="1798.7" textLength="55" lengthAdjust="spacingAndGlyphs">1,600</text><text x="72" y="1748.5" textLength="55" lengthAdjust="spacingAndGlyphs">1,800</text><text x="72" y="1698.2" textLength="55" lengthAdjust="spacingAndGlyphs">2,000</text></g>
<g font-family='"Montserrat","Liberation Sans",sans-serif' font-size="18.6" fill="#1a1a1a"><text x="112" y="1692.5" font-size="17">(pts)</text><text x="811" y="1697.5" text-anchor="end">PE Band</text><text x="791.5" y="1750.0" text-anchor="middle">20.0x</text><text x="791.5" y="1786.4" text-anchor="middle">18.4x</text><text x="791.5" y="1819.7" text-anchor="middle">16.8x</text><text x="791.5" y="1857.0" text-anchor="middle">15.2x</text><text x="791.5" y="1893.8" text-anchor="middle">13.6x</text><text x="791.5" y="1930.7" text-anchor="middle">12.0x</text></g>
<g font-family='"Liberation Sans",sans-serif' font-size="17.4" fill="#404040" text-anchor="end"><text transform="translate(101.3,2005.6) rotate(-90)">Jan-18</text><text transform="translate(135.2,2005.6) rotate(-90)">Jun-18</text><text transform="translate(169.2,2005.6) rotate(-90)">Nov-18</text><text transform="translate(203.2,2005.6) rotate(-90)">Apr-19</text><text transform="translate(239.2,2005.6) rotate(-90)">Sep-19</text><text transform="translate(273.1,2005.6) rotate(-90)">Feb-20</text><text transform="translate(307.7,2005.6) rotate(-90)">Jul-20</text><text transform="translate(342.0,2005.6) rotate(-90)">Dec-20</text><text transform="translate(376.0,2005.6) rotate(-90)">May-21</text><text transform="translate(410.0,2005.6) rotate(-90)">Oct-21</text><text transform="translate(444.0,2005.6) rotate(-90)">Mar-22</text><text transform="translate(479.8,2005.6) rotate(-90)">Aug-22</text><text transform="translate(514.2,2005.6) rotate(-90)">Jan-23</text><text transform="translate(548.2,2005.6) rotate(-90)">Jun-23</text><text transform="translate(582.8,2005.6) rotate(-90)">Nov-23</text><text transform="translate(616.8,2005.6) rotate(-90)">Apr-24</text><text transform="translate(650.8,2005.6) rotate(-90)">Sep-24</text><text transform="translate(687.0,2005.6) rotate(-90)">Feb-25</text><text transform="translate(719.2,2005.6) rotate(-90)">Jul-25</text><text transform="translate(754.7,2005.6) rotate(-90)">Dec-25</text></g>
</svg>
<svg class="abs" style="left:1760px;top:0" width="110" height="90" viewBox="1760 0 110 90"><path fill="#6e6e6e" d="M1779.35,64.67A40,40 0 0 1 1822.59,2.23L1815.99,24.68A16.6,16.6 0 0 0 1798.04,50.59Z"/><path fill="#d9d9d9" d="M1822.59,2.23A40,40 0 0 1 1843.03,16.25L1824.47,30.49A16.6,16.6 0 0 0 1815.99,24.68Z"/><path fill="#b9b9b9" d="M1843.03,16.25A40,40 0 0 1 1850.81,46.86L1827.70,43.20A16.6,16.6 0 0 0 1824.47,30.49Z"/><path fill="#363636" d="M1850.81,46.86A40,40 0 0 1 1779.35,64.67L1798.04,50.59A16.6,16.6 0 0 0 1827.70,43.20Z"/></svg>
<svg class="abs" style="left:1630px;top:2085px" width="200" height="75" viewBox="1630 2085 200 75"><g font-family="Comfortaa,Quicksand,'Varela Round','Liberation Sans',sans-serif" font-size="30.5" font-weight="700" fill="#3a3a3a"><text x="1640.2" y="2126.9" letter-spacing=".4">inn</text><text x="1726" y="2126.9" letter-spacing="3.2">vest</text><text x="1801.3" y="2109.7" font-size="25.5" font-weight="700" letter-spacing="0">x</text></g><path fill="#6e6e6e" d="M1696.50,2124.46A13.4,13.4 0 0 1 1710.98,2103.55L1709.06,2110.07A6.6,6.6 0 0 0 1701.93,2120.37Z"/><path fill="#d9d9d9" d="M1710.98,2103.55A13.4,13.4 0 0 1 1717.83,2108.24L1712.44,2112.38A6.6,6.6 0 0 0 1709.06,2110.07Z"/><path fill="#b9b9b9" d="M1717.83,2108.24A13.4,13.4 0 0 1 1720.44,2118.50L1713.72,2117.43A6.6,6.6 0 0 0 1712.44,2112.38Z"/><path fill="#363636" d="M1720.44,2118.50A13.4,13.4 0 0 1 1696.50,2124.46L1701.93,2120.37A6.6,6.6 0 0 0 1713.72,2117.43Z"/></svg>
<div class="abs" style="left:1642px;top:2132.7px;font-size:12.4px;line-height:18px;font-weight:600;color:#333;width:170px;overflow:hidden">บริษัทหลักทรัพย์ในกลุ่ม SCBX</div>
<svg class="abs" style="left:30px;top:20px" width="200" height="180" viewBox="0 0 1784 1606">
<defs>
<linearGradient id="tf" x1="0" y1="0" x2="1" y2="1"><stop offset="0" stop-color="#dcd9ee"/><stop offset=".4" stop-color="#bab6d4"/><stop offset=".75" stop-color="#8d89ad"/><stop offset="1" stop-color="#5f5b80"/></linearGradient>
<linearGradient id="pu" x1="0" y1="0" x2="1" y2="0"><stop offset="0" stop-color="#8f7eec"/><stop offset=".3" stop-color="#5c47c8"/><stop offset=".75" stop-color="#412da2"/><stop offset="1" stop-color="#6c59d8"/></linearGradient>
<linearGradient id="gr" x1="0" y1="0" x2="0" y2="1"><stop offset="0" stop-color="#aeacbb"/><stop offset=".35" stop-color="#605e6f"/><stop offset="1" stop-color="#2a2836"/></linearGradient>
<filter id="b1" x="-30%" y="-30%" width="160%" height="160%"><feGaussianBlur stdDeviation="15"/></filter>
<filter id="b2" x="-30%" y="-30%" width="160%" height="160%"><feGaussianBlur stdDeviation="5"/></filter>
<clipPath id="tc"><path d="M440,135L1290,215Q1512,240 1512,480L1512,1250Q1512,1496 1315,1490L480,1410Q250,1390 250,1190L250,330Q250,130 440,135Z"/></clipPath>
</defs>
<path transform="translate(24,-3)" d="M440,135L1290,215Q1512,240 1512,480L1512,1250Q1512,1496 1315,1490L480,1410Q250,1390 250,1190L250,330Q250,130 440,135Z" fill="#2c2840" stroke="#2c2840" stroke-width="6" filter="url(#b2)"/>
<path d="M440,135L1290,215Q1512,240 1512,480L1512,1250Q1512,1496 1315,1490L480,1410Q250,1390 250,1190L250,330Q250,130 440,135Z" fill="url(#tf)"/>
<g clip-path="url(#tc)">
<g filter="url(#b1)">
<path d="M365,715L505,740L520,1130L375,1150Z" fill="#1a1440" opacity=".9"/>
<path d="M500,930L760,900L760,1010L520,1080Z" fill="#1f1848" opacity=".75"/>
<path d="M750,600L930,640L930,860L760,920Z" fill="#3a2a9c" opacity=".8"/>
<path d="M1000,760L1110,780L1110,1180L1010,1240Z" fill="#2a2060" opacity=".7"/>
<path d="M1120,1020L1480,1040L1480,1400L1120,1290Z" fill="#4a4470" opacity=".5"/>
<rect x="478" y="520" width="22" height="770" fill="#4f3fb0" opacity=".7"/>
<rect x="770" y="320" width="26" height="300" fill="#5a48c8" opacity=".7"/>
</g>
<rect x="1290" y="405" width="150" height="630" rx="40" fill="#5843c6" filter="url(#b2)"/>
</g>
<g filter="url(#b2)">
<rect x="325" y="545" width="22" height="790" fill="#4a4860"/>
<path d="M215,745Q290,725 370,745L370,1120Q290,1150 215,1130Z" fill="url(#gr)"/>
<rect x="628" y="340" width="24" height="790" fill="#4a38c0"/>
<path d="M505,585Q630,560 750,585L750,900Q630,940 505,915Z" fill="url(#pu)"/>
<rect x="924" y="590" width="22" height="800" fill="#4c4a60"/>
<path d="M810,770Q910,750 1010,770L1010,1200Q910,1235 810,1215Z" fill="url(#gr)"/>
<rect x="1244" y="290" width="24" height="815" fill="#5540cc"/>
<path d="M1120,420Q1260,390 1400,420L1400,1000Q1260,1040 1120,1015Z" fill="url(#pu)"/>
</g>
</svg>
</body></html>
